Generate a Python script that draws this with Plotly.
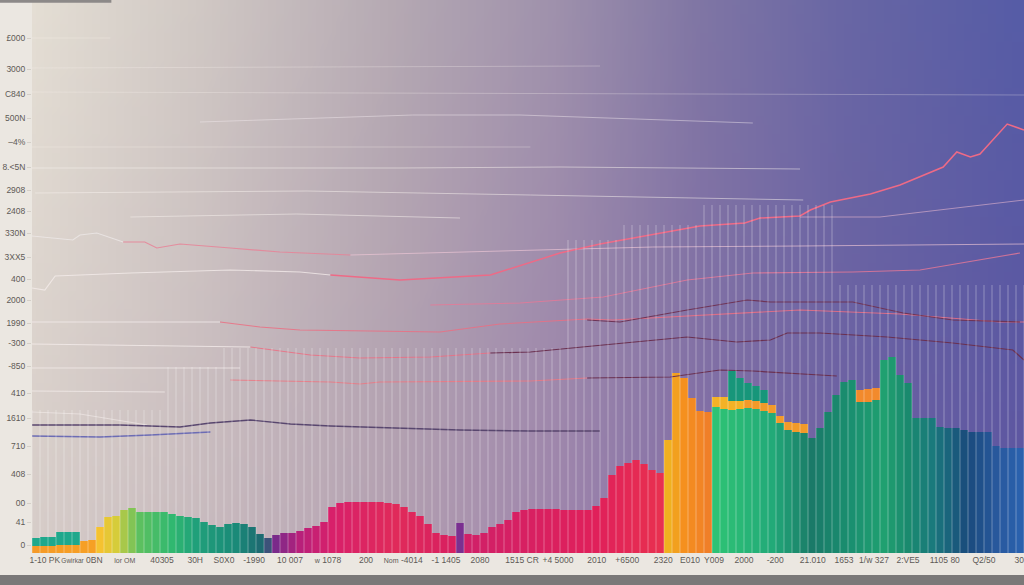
import zlib
import struct
import base64
import plotly.graph_objects as go

# ---------------- data ----------------
bar_index = list(range(124))

main_values = [7, 7, 7, 8, 8, 8, 12, 13, 26, 36, 37, 43, 45, 41, 41, 41, 41, 39, 37, 36,
               35, 31, 28, 26, 29, 30, 29, 26, 19, 15, 18, 20, 20, 22, 25, 27, 31, 46, 50, 51,
               51, 51, 51, 51, 50, 49, 46, 41, 37, 29, 20, 18, 17, 30, 19, 18, 20, 26, 29, 33,
               41, 43, 44, 44, 44, 44, 43, 43, 43, 43, 47, 55, 78, 87, 90, 93, 89, 83, 80, 113,
               180, 175, 155, 142, 141, 146, 144, 143, 144, 145, 144, 142, 140, 130, 123, 121, 120, 115, 125, 141,
               158, 171, 173, 151, 151, 153, 193, 196, 178, 170, 135, 135, 135, 126, 125, 125, 123, 121, 121, 121,
               107, 105, 105, 105]

band_values = [8, 9, 9, 13, 13, 13] + [0] * 79 + [10, 12, 9, 8, 8, 8, 8, 8, 7, 8, 9, 9] + \
              [0] * 6 + [12, 13, 12] + [0] * 18

cap_values = [0] * 87 + [30, 23, 17, 15, 13] + [0] * 32

y_tick_vals = [515, 484, 459, 435, 411, 386, 363, 342, 320, 296, 274, 253, 230, 210,
               187, 160, 135, 107, 79, 50, 31, 8]
y_tick_text = ["£000", "3000", "C840", "500N", "–4%", "8.<5N", "2908", "2408", "330N", "3XX5",
               "400", "2000", "1990", "-300", "-850", "410", "1610", "710", "408", "00", "41", "0"]

x_tick_vals = [1.1, 5.75, 11.1, 15.75, 19.9, 23.5, 27.25, 31.75, 36.5, 41.25, 45.9, 51.25, 55.5,
               60.75, 65.25, 70.1, 73.9, 78.4, 81.75, 84.75, 88.5, 92.4, 97.1, 101, 104.75, 109,
               113.6, 118.5, 122.9]
x_tick_text = ["1-10 PK", "<span style='font-size:6.5px'>Gwirkar</span> 0BN",
               "<span style='font-size:7px'>lor OM</span>", "40305", "30H", "S0X0", "-1990", "10 007",
               "<span style='font-size:7px'>w</span> 1078", "200",
               "<span style='font-size:7px'>Nom</span> -4014", "-1 1405", "2080", "1515 CR",
               "+4 5000", "2010", "+6500", "2320", "E010", "Y009", "2000", "-200", "21.010", "1653",
               "1/w 327", "2:VE5", "1105 80", "Q2/50", "30"]

# line series (x in bar-index units, y in axis units)
line_f_x = [-0.5, 1.1, 2.4, 11.8, 24.3, 33, 36.8, 45.5, 56.8, 61.8, 65.5, 70.5, 76.8, 83, 88.6,
            90.5, 95.5, 96.8, 99.3, 104.3, 108, 113.4, 115.1, 116.8, 118, 121.4, 123.5]
line_f_y = [265, 263, 277, 280, 283, 281, 278, 273, 278, 291, 300, 309, 318, 327, 330,
            335, 337, 343, 351, 359, 368, 386, 401, 396, 399, 429, 423]

line_e_x = [-0.5, 4.6, 5.5, 7.6, 10.9, 13.6, 15.1, 18, 24.3, 30.5, 39.3, 49.3, 61.8, 77.1, 95.5, 123.5]
line_e_y = [317, 313, 318, 320, 311, 311, 305, 309, 305, 301, 298, 300, 303, 306, 307, 309]

line_c_x = [-0.1, 33.9, 61.8, 83, 95.9]
line_c_y = [360, 362, 358, 355, 353]

line_g_x = [95.5, 105.5, 123.5]
line_g_y = [336, 336, 353]

line_b_x = [-0.5, 45.5, 65.5, 95.5]
line_b_y = [385, 385, 386, 384]

line_a_x = [20.5, 47.1, 60.5, 89.6]
line_a_y = [431, 438, 438, 430]

line_d_x = [11.8, 32.6, 53]
line_d_y = [336, 339, 335]

line_t1_x = [-0.5, 9.3]
line_t1_y = [515, 515]
line_t2_x = [-0.5, 70.5]
line_t2_y = [485, 487]
line_t3_x = [-0.5, 123.5]
line_t3_y = [461, 458]
line_t4_x = [-0.5, 61.8]
line_t4_y = [406, 406]

line_h_x = [-0.5, 23, 28, 33, 50.5, 58, 68.9, 72.1, 83, 95.5, 108, 120.5, 123.5]
line_h_y = [231, 231, 226, 223, 221, 229, 234, 233, 238, 243, 239, 231, 231]

line_o_x = [68.9, 73, 81.4, 88.9, 91.8, 102.1, 108.4, 114.6, 123]
line_o_y = [233, 231, 243, 253, 251, 251, 240, 233, 231]

line_i_x = [49.3, 60.5, 70.9, 77.1, 81.4, 89.6, 102.1, 110.5, 123]
line_i_y = [248, 250, 256, 266, 273, 280, 281, 283, 300]

line_j_x = [-0.5, 26.8, 34.3, 40.5, 49.3, 56.8, 61.8, 70.9, 81.4, 87.6, 91.8, 93.9, 98,
            106.4, 114.6, 122.1, 123.5]
line_j_y = [209, 206, 198, 195, 196, 200, 201, 208, 216, 211, 213, 220, 220, 216, 210, 203, 193]

line_k1_x = [-0.5, 25.5]
line_k1_y = [185, 185]
line_k2_x = [24.3, 36.8, 40.5, 43, 61.8, 68.9, 79.3, 85.5, 89.6, 98, 100.1]
line_k2_y = [173, 171, 169, 171, 172, 175, 176, 183, 182, 178, 177]

line_l_x = [-0.5, 16.1]
line_l_y = [162, 161]
line_p_x = [-0.5, 5.5, 13.9]
line_p_y = [141, 139, 128]

line_m_x = [-0.5, 10.5, 18, 21.8, 26.8, 31.8, 36.8, 45.5, 53, 61.8, 70.5]
line_m_y = [128, 128, 126, 130, 133, 129, 127, 125, 123, 122, 122]

line_n_x = [-0.5, 8, 14.3, 21.8]
line_n_y = [117, 116, 118, 121]

# ---------------- styling ----------------
bar_color_stops = [(-0.5, "#f59a28"), (7, "#f6a024"), (8, "#f5c230"), (10, "#d6cc3a"),
                   (11, "#a8c84a"), (13, "#5cc060"), (17, "#30b870"), (20, "#20a07a"),
                   (25, "#1a8a78"), (28.5, "#1d6670"), (30, "#7a2a8a"), (33, "#b8207a"),
                   (37, "#d8206a"), (45, "#e02a5a"), (52, "#d82060"), (53, "#7a3090"),
                   (54, "#d02068"), (70, "#e0205a"), (78, "#e83050"), (79, "#f0b020"),
                   (81, "#f5901e"), (84, "#f07f28"), (85, "#2ec275"), (92, "#22aa78"),
                   (97, "#1a7a68"), (102, "#1a9070"), (106, "#20a070"), (109, "#1a8a6e"),
                   (112, "#1a7a7c"), (116.5, "#1a4a7c"), (120, "#28589c"), (123.5, "#2a62b0")]


def hex_rgb(h):
    h = h.lstrip("#")
    return tuple(int(h[k:k + 2], 16) for k in (0, 2, 4))


def interp_color(stops, x):
    for (x0, c0), (x1, c1) in zip(stops[:-1], stops[1:]):
        if x0 <= x <= x1:
            t = 0 if x1 == x0 else (x - x0) / (x1 - x0)
            a, b = hex_rgb(c0), hex_rgb(c1)
            return "rgb(%d,%d,%d)" % tuple(round(a[k] + (b[k] - a[k]) * t) for k in range(3))
    return stops[-1][1]


main_colors = [interp_color(bar_color_stops, i) for i in bar_index]
band_colors = []
for i in bar_index:
    if i < 6:
        band_colors.append("#1fa88c")
    elif i <= 88:
        band_colors.append("#f3b226")
    elif i <= 96:
        band_colors.append("#f29a2a")
    else:
        band_colors.append("#f28a2c")
cap_colors = ["#17967a"] * len(bar_index)

# background gradient image (plot area)
bg_fx = [0, 0.169, 0.371, 0.522, 0.673, 0.825, 1]
bg_top = [(228, 222, 212), (208, 200, 196), (180, 168, 178), (160, 146, 172),
          (128, 118, 164), (104, 102, 164), (86, 92, 166)]
bg_bot = [(214, 204, 200), (200, 186, 190), (178, 158, 176), (160, 134, 172),
          (132, 110, 166), (110, 96, 162), (96, 86, 160)]


def grad_px(fx, fy):
    for k in range(len(bg_fx) - 1):
        if bg_fx[k] <= fx <= bg_fx[k + 1]:
            t = (fx - bg_fx[k]) / (bg_fx[k + 1] - bg_fx[k])
            top = [bg_top[k][c] + (bg_top[k + 1][c] - bg_top[k][c]) * t for c in range(3)]
            bot = [bg_bot[k][c] + (bg_bot[k + 1][c] - bg_bot[k][c]) * t for c in range(3)]
            return [int(round(top[c] + (bot[c] - top[c]) * fy)) for c in range(3)]
    return list(bg_top[-1])


def png_uri(w, h):
    rows = []
    for y in range(h):
        row = bytearray([0])
        for x in range(w):
            row.extend(grad_px(x / (w - 1), y / (h - 1)))
        rows.append(bytes(row))
    raw = b"".join(rows)

    def chunk(t, d):
        c = struct.pack(">I", len(d)) + t + d
        return c + struct.pack(">I", zlib.crc32(t + d) & 0xffffffff)

    png = (b"\x89PNG\r\n\x1a\n" + chunk(b"IHDR", struct.pack(">IIBBBBB", w, h, 8, 2, 0, 0, 0))
           + chunk(b"IDAT", zlib.compress(raw)) + chunk(b"IEND", b""))
    return "data:image/png;base64," + base64.b64encode(png).decode()


fig = go.Figure()


def add_line(xs, ys, color, width=1.0, start=0, end=None):
    end = len(xs) if end is None else end
    fig.add_trace(go.Scatter(x=xs[start:end], y=ys[start:end], mode="lines",
                             line=dict(color=color, width=width), hoverinfo="skip"))


# faint light lines in upper area
WHITE = "rgba(250,244,240,0.5)"
FAINT = "rgba(250,244,240,0.28)"
add_line(line_t1_x, line_t1_y, FAINT)
add_line(line_t2_x, line_t2_y, FAINT)
add_line(line_t3_x, line_t3_y, FAINT)
add_line(line_a_x, line_a_y, "rgba(245,235,240,0.45)")
add_line(line_t4_x, line_t4_y, FAINT)
add_line(line_b_x, line_b_y, WHITE)
add_line(line_c_x, line_c_y, WHITE)
add_line(line_d_x, line_d_y, WHITE)
add_line(line_g_x, line_g_y, "rgba(240,190,210,0.55)")
add_line(line_e_x, line_e_y, "rgba(240,235,235,0.7)", 1.2, 0, 5)
add_line(line_e_x, line_e_y, "rgba(232,130,150,0.85)", 1.2, 4, 11)
add_line(line_e_x, line_e_y, "rgba(240,200,215,0.65)", 1.0, 10)
add_line(line_f_x, line_f_y, "rgba(245,238,236,0.75)", 1.2, 0, 7)
add_line(line_f_x, line_f_y, "#ee6a86", 1.5, 6)
add_line(line_i_x, line_i_y, "rgba(232,120,150,0.8)", 1.1)
add_line(line_h_x, line_h_y, "rgba(245,238,236,0.75)", 1.1, 0, 2)
add_line(line_h_x, line_h_y, "rgba(235,110,130,0.85)", 1.1, 1)
add_line(line_o_x, line_o_y, "#6e3456", 1.2)
add_line(line_j_x, line_j_y, "rgba(245,238,236,0.75)", 1.1, 0, 2)
add_line(line_j_x, line_j_y, "rgba(235,110,130,0.85)", 1.1, 1, 6)
add_line(line_j_x, line_j_y, "#6a3050", 1.2, 5)
add_line(line_k1_x, line_k1_y, "rgba(245,238,236,0.7)")
add_line(line_k2_x, line_k2_y, "rgba(235,120,130,0.85)", 1.1, 0, 6)
add_line(line_k2_x, line_k2_y, "#6a3050", 1.2, 5)
add_line(line_l_x, line_l_y, "rgba(245,238,236,0.7)")
add_line(line_p_x, line_p_y, "rgba(245,238,236,0.55)")
add_line(line_m_x, line_m_y, "#58466e", 1.4)
add_line(line_n_x, line_n_y, "#6c6cb4", 1.4)

# stacked bars
fig.add_trace(go.Bar(x=bar_index, y=main_values, width=1, marker=dict(color=main_colors, line=dict(width=0)),
                     hoverinfo="skip"))
fig.add_trace(go.Bar(x=bar_index, y=band_values, width=1, marker=dict(color=band_colors, line=dict(width=0)),
                     hoverinfo="skip"))
fig.add_trace(go.Bar(x=bar_index, y=cap_values, width=1, marker=dict(color=cap_colors, line=dict(width=0)),
                     hoverinfo="skip"))

# vertical grid strokes drawn over the bars
grid_reach = [(15.5, 143), (22.5, 186), (65.5, 205), (72.5, 313), (82.5, 328), (99.5, 348), (123.5, 268)]
gx, gy = [], []
for k in range(125):
    b = -0.5 + k
    top = next(v for lim, v in grid_reach if b <= lim)
    gx += [b, b, None]
    gy += [0, top, None]
fig.add_trace(go.Scatter(x=gx, y=gy, mode="lines", line=dict(color="rgba(255,255,255,0.32)", width=1),
                         hoverinfo="skip"))

fig.update_layout(
    width=1024, height=585,
    margin=dict(l=32, r=0, t=0, b=32),
    paper_bgcolor="#ebe7e1",
    plot_bgcolor="#b8aab8",
    barmode="stack", bargap=0,
    showlegend=False,
    font=dict(family="Liberation Sans, Arial, sans-serif", color="#5e5a56"),
    images=[dict(source=png_uri(124, 60), xref="paper", yref="paper", x=0, y=1, sizex=1, sizey=1,
                 xanchor="left", yanchor="top", sizing="stretch", layer="below")],
    shapes=[dict(type="rect", xref="paper", yref="paper", x0=-0.04, x1=1.01, y0=-0.06, y1=-0.0398,
                 fillcolor="#7a7878", line=dict(width=0), layer="above"),
            dict(type="rect", xref="paper", yref="paper", x0=-0.04, x1=0.08, y0=0.995, y1=1.0,
                 fillcolor="#8c8988", line=dict(width=0), layer="above")],
)
fig.update_xaxes(range=[-0.5, 123.5], showgrid=False, zeroline=False, showline=False,
                 tickvals=x_tick_vals, ticktext=x_tick_text, tickangle=0, ticks="",
                 tickfont=dict(size=8.5, color="#5e5a56"), ticklabeloverflow="allow")
fig.update_yaxes(range=[0, 553], showgrid=False, zeroline=False, showline=False,
                 tickvals=y_tick_vals, ticktext=y_tick_text, ticks="outside", ticklen=4,
                 tickcolor="#d4cfc8", tickfont=dict(size=8.5, color="#5e5a56"))

fig.write_html("out.html", config={"displayModeBar": False},
               post_script="document.body.style.margin='0';document.body.style.overflow='hidden';")
